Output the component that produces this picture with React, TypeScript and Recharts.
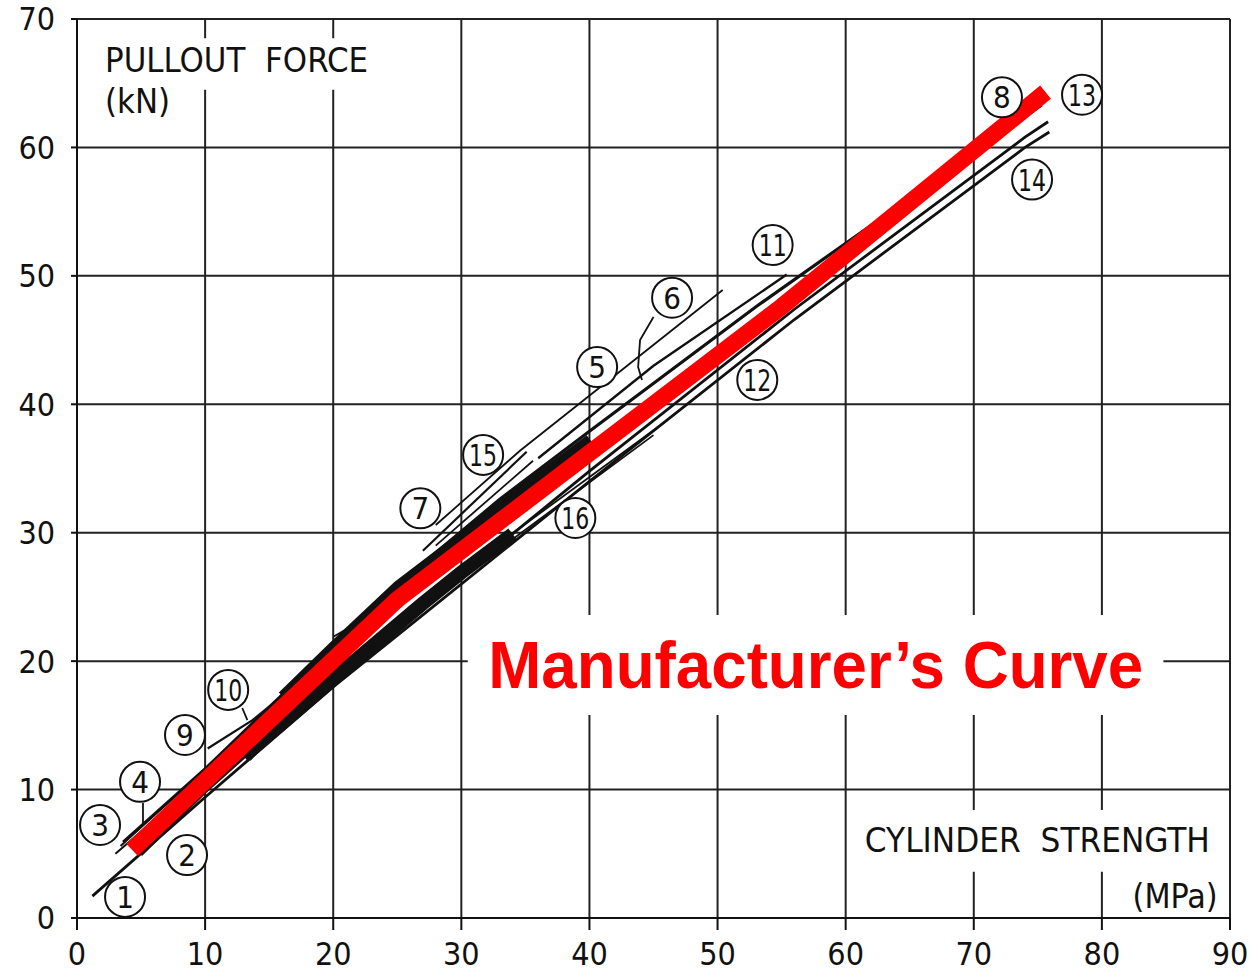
import React from 'react';
import { LineChart, Line, XAxis, YAxis, CartesianGrid, ReferenceArea, ReferenceDot } from 'recharts';

const FONT = "'DejaVu Sans Condensed', 'DejaVu Sans', sans-serif";

const xTicks = [0, 10, 20, 30, 40, 50, 60, 70, 80, 90];
const yTicks = [0, 10, 20, 30, 40, 50, 60, 70];

// black correlation curves (cylinder strength MPa, pullout kN)
const curveLow1 = [
  { x: 1.2, y: 1.7 }, { x: 10, y: 9.4 }, { x: 20, y: 18.0 }, { x: 27, y: 23.6 },
  { x: 40, y: 34.0 }, { x: 56, y: 46.6 }, { x: 74, y: 60.0 }, { x: 75.9, y: 61.2 },
];
const curveLow2 = [
  { x: 5, y: 4.9 }, { x: 10, y: 9.8 }, { x: 20, y: 18.7 }, { x: 27, y: 24.2 },
  { x: 40, y: 34.8 }, { x: 56, y: 47.4 }, { x: 74, y: 60.8 }, { x: 75.8, y: 62.0 },
];
const curveUpper = [
  { x: 3.6, y: 5.9 }, { x: 10, y: 11.6 }, { x: 20, y: 21.2 }, { x: 27, y: 27.6 },
  { x: 33, y: 32.6 }, { x: 40, y: 37.9 }, { x: 53, y: 47.6 }, { x: 75.3, y: 63.3 },
];
const curve3 = [{ x: 3.0, y: 5.0 }, { x: 6, y: 7.6 }];
const curve4 = [{ x: 3.4, y: 5.6 }, { x: 6, y: 8.0 }];
const curve9 = [
  { x: 10.2, y: 13.2 }, { x: 13.7, y: 15.4 }, { x: 17.4, y: 18.4 }, { x: 22, y: 22.6 }, { x: 27, y: 27.5 },
];
const curveShort = [{ x: 20, y: 21.9 }, { x: 22.3, y: 23.2 }];
const curveLowThin = [{ x: 13.5, y: 12.3 }, { x: 18.4, y: 17.6 }];
const curve15a = [{ x: 27, y: 28.6 }, { x: 35.1, y: 36.3 }];
const curve15b = [{ x: 28, y: 29.0 }, { x: 35.6, y: 35.6 }];
const curve16a = [{ x: 29.4, y: 26.6 }, { x: 45.3, y: 38.2 }];
const curve16b = [{ x: 29.8, y: 26.4 }, { x: 45.0, y: 37.6 }];
const curve6 = [{ x: 28, y: 30.6 }, { x: 34.6, y: 36.4 }, { x: 50.4, y: 48.9 }];
const curve11 = [{ x: 36, y: 35.8 }, { x: 45, y: 43.0 }, { x: 55.4, y: 50.1 }];
const bundleUpper = [
  { x: 16, y: 17.3 }, { x: 20, y: 21.2 }, { x: 25, y: 25.9 }, { x: 30, y: 29.7 },
  { x: 35, y: 33.6 }, { x: 40, y: 37.3 },
];
const bundleLower = [
  { x: 13, y: 12.6 }, { x: 20, y: 18.6 }, { x: 27, y: 24.5 }, { x: 30, y: 26.9 }, { x: 34, y: 29.9 },
];

// leader lines from the circled numbers
const pointer4 = [{ x: 5.15, y: 8.95 }, { x: 5.15, y: 7.4 }];
const pointer6 = [{ x: 45.0, y: 46.8 }, { x: 43.95, y: 45.0 }, { x: 43.8, y: 42.9 }, { x: 44.1, y: 41.9 }];
const pointer10 = [{ x: 12.9, y: 16.35 }, { x: 13.3, y: 15.4 }];

const manufacturerCurve = [
  { x: 4.3, y: 5.3 }, { x: 25, y: 24.8 }, { x: 55, y: 47.6 }, { x: 75.6, y: 64.3 },
];

const circleLabels = [
  { id: '1', x: 3.75, y: 1.64 },
  { id: '2', x: 8.59, y: 4.9 },
  { id: '3', x: 1.8, y: 7.24 },
  { id: '4', x: 4.92, y: 10.6 },
  { id: '9', x: 8.43, y: 14.25 },
  { id: '10', x: 11.8, y: 17.76 },
  { id: '7', x: 26.8, y: 31.9 },
  { id: '15', x: 31.7, y: 36.06 },
  { id: '16', x: 38.9, y: 31.15 },
  { id: '5', x: 40.6, y: 42.9 },
  { id: '6', x: 46.45, y: 48.3 },
  { id: '11', x: 54.3, y: 52.4 },
  { id: '12', x: 53.1, y: 41.9 },
  { id: '8', x: 72.2, y: 63.9 },
  { id: '13', x: 78.45, y: 64.1 },
  { id: '14', x: 74.55, y: 57.5 },
];

const blackLines = [
  { key: 'bu', data: bundleUpper, w: 9 },
  { key: 'bl', data: bundleLower, w: 14 },
  { key: 'low1', data: curveLow1, w: 2.8 },
  { key: 'low2', data: curveLow2, w: 2.8 },
  { key: 'upper', data: curveUpper, w: 3.2 },
  { key: 'c3', data: curve3, w: 2 },
  { key: 'c4', data: curve4, w: 2 },
  { key: 'c9', data: curve9, w: 2.2 },
  { key: 'short', data: curveShort, w: 1.8 },
  { key: 'lowthin', data: curveLowThin, w: 1.8 },
  { key: 'c15a', data: curve15a, w: 2.2 },
  { key: 'c15b', data: curve15b, w: 1.8 },
  { key: 'c16a', data: curve16a, w: 1.8 },
  { key: 'c16b', data: curve16b, w: 1.8 },
  { key: 'c6', data: curve6, w: 1.8 },
  { key: 'c11', data: curve11, w: 2.4 },
  { key: 'p4', data: pointer4, w: 1.8 },
  { key: 'p6', data: pointer6, w: 1.8 },
  { key: 'p10', data: pointer10, w: 1.8 },
];

const CircleLabel = (props: any) => {
  const { cx, cy, id } = props;
  return (
    <g>
      <circle cx={cx} cy={cy} r={20} fill="#fff" stroke="#111" strokeWidth={2} />
      <text
        x={cx}
        y={cy + 11}
        textAnchor="middle"
        fontSize={31}
        fontFamily={FONT}
        fill="#111"
        textLength={id.length > 1 ? 28 : undefined}
        lengthAdjust="spacingAndGlyphs"
      >
        {id}
      </text>
    </g>
  );
};

const textAt = (txt: string, size: number, len: number, opts: any = {}) => (props: any) => (
  <text
    x={props.cx}
    y={props.cy}
    fontSize={size}
    fontFamily={opts.family || FONT}
    fontWeight={opts.weight || 'normal'}
    fill={opts.color || '#111'}
    textLength={len}
    lengthAdjust="spacingAndGlyphs"
    style={{ whiteSpace: 'pre' }}
  >
    {txt}
  </text>
);

export default function App() {
  return (
    <div style={{ position: 'absolute', left: 0, top: 0, background: '#fff' }}>
      <LineChart width={1251} height={973} margin={{ top: 19, right: 21, bottom: 0, left: 0 }}>
        <CartesianGrid stroke="#222" strokeWidth={2} horizontalValues={yTicks} verticalValues={xTicks} />
        <XAxis
          dataKey="x"
          type="number"
          domain={[0, 90]}
          ticks={xTicks}
          allowDataOverflow
          height={55}
          tickSize={12}
          tickMargin={12}
          axisLine={{ stroke: '#111', strokeWidth: 2 }}
          tickLine={{ stroke: '#111', strokeWidth: 2 }}
          tick={{ fontSize: 32, fill: '#111', fontFamily: FONT }}
        />
        <YAxis
          dataKey="y"
          type="number"
          domain={[0, 70]}
          ticks={yTicks}
          allowDataOverflow
          width={77}
          tickSize={6}
          tickMargin={16}
          axisLine={{ stroke: '#111', strokeWidth: 2 }}
          tickLine={{ stroke: '#111', strokeWidth: 2 }}
          tick={{ fontSize: 32, fill: '#111', fontFamily: FONT }}
        />
        <ReferenceArea x1={1} x2={25} y1={64.5} y2={68.5} fill="#fff" fillOpacity={1} stroke="none" />
        <ReferenceArea x1={61} x2={88.5} y1={3.6} y2={8.4} fill="#fff" fillOpacity={1} stroke="none" />
        <ReferenceArea x1={30.5} x2={84.8} y1={15.8} y2={23.6} fill="#fff" fillOpacity={1} stroke="none" />
        {blackLines.map((l) => (
          <Line
            key={l.key}
            data={l.data}
            dataKey="y"
            type="linear"
            stroke="#111"
            strokeWidth={l.w}
            dot={false}
            activeDot={false}
            isAnimationActive={false}
          />
        ))}
        <Line
          data={manufacturerCurve}
          dataKey="y"
          type="linear"
          stroke="#ff0000"
          strokeWidth={17}
          strokeLinecap="butt"
          strokeLinejoin="round"
          dot={false}
          activeDot={false}
          isAnimationActive={false}
        />
        {circleLabels.map((c) => (
          <ReferenceDot
            key={c.id}
            x={c.x}
            y={c.y}
            r={20}
            ifOverflow="visible"
            shape={(p: any) => <CircleLabel {...p} id={c.id} />}
          />
        ))}
        <ReferenceDot x={2.19} y={65.9} r={1} ifOverflow="visible" shape={textAt('PULLOUT  FORCE', 33, 263)} />
        <ReferenceDot x={2.19} y={62.7} r={1} ifOverflow="visible" shape={textAt('(kN)', 33, 65)} />
        <ReferenceDot x={61.5} y={5.14} r={1} ifOverflow="visible" shape={textAt('CYLINDER  STRENGTH', 33, 345)} />
        <ReferenceDot x={82.4} y={0.78} r={1} ifOverflow="visible" shape={textAt('(MPa)', 33, 85)} />
        <ReferenceDot
          x={32.1}
          y={17.9}
          r={1}
          ifOverflow="visible"
          shape={textAt('Manufacturer\u2019s Curve', 66, 655, {
            family: "'Liberation Sans', Arial, sans-serif",
            weight: 'bold',
            color: '#ff0000',
          })}
        />
      </LineChart>
    </div>
  );
}
